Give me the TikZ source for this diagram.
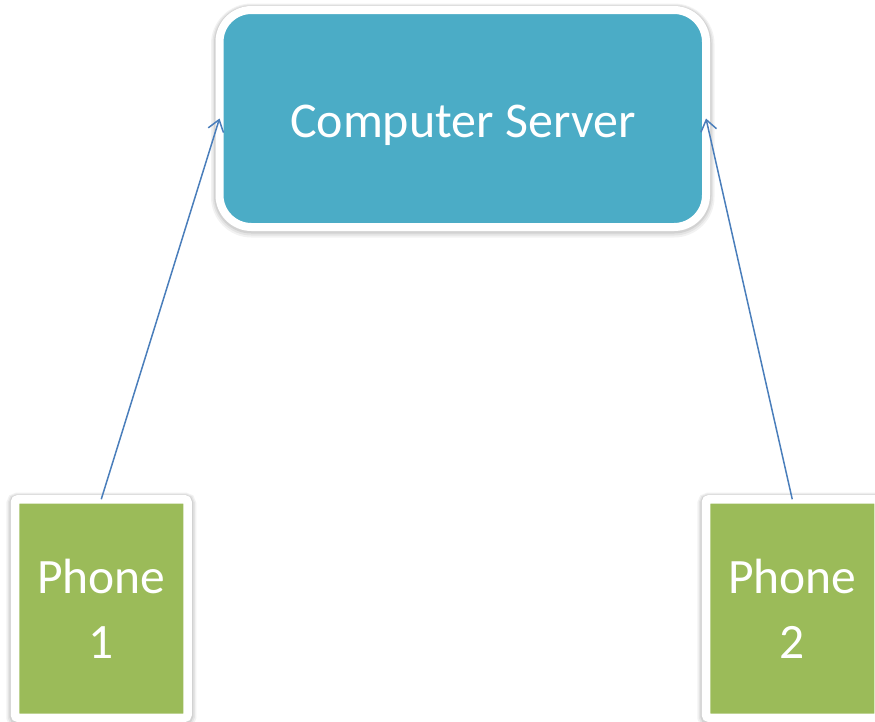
\documentclass[tikz,border=0pt]{standalone}
\usepackage{fontspec}
\setmainfont{Carlito}
\usetikzlibrary{arrows.meta}
\definecolor{serverteal}{HTML}{4BACC6}
\definecolor{phonegreen}{HTML}{9BBB59}
\definecolor{linkblue}{HTML}{4A7EBB}
\tikzset{
  % soft grey edge around the white frame, built from stacked translucent strokes
  softedge/.style={
    preaction={draw=black,fill=none,draw opacity=0.05,line width=#1+9pt,transform canvas={yshift=-2pt}},
    preaction={draw=black,fill=none,draw opacity=0.06,line width=#1+6pt,transform canvas={yshift=-1.5pt}},
    preaction={draw=black,fill=none,draw opacity=0.08,line width=#1+3pt,transform canvas={yshift=-1pt}}},
  serverbox/.style={draw=white,line width=8pt,fill=serverteal,rounded corners=32pt,
    minimum width=486.5pt,minimum height=217pt,inner sep=0pt,outer sep=0pt,
    text height=37pt,text depth=0pt,
    text=white,font=\fontsize{50}{60}\selectfont,softedge=8pt},
  phonebox/.style={draw=white,line width=8.5pt,fill=phonegreen,rounded corners=3pt,
    minimum width=172.5pt,minimum height=218.5pt,inner sep=0pt,outer sep=0pt,
    text=white,align=center,font=\fontsize{49.5}{65}\selectfont,softedge=8.5pt},
  link/.style={draw=linkblue,line width=1.5pt,-{Straight Barb[length=11pt,width=16pt,line width=1.5pt]}}
}
\begin{document}
\begin{tikzpicture}[x=1pt,y=-1pt]
\useasboundingbox (0,0) rectangle (875,721);
\node[serverbox] (server) at (462.75,118.5) {Computer Server};
\node[phonebox] (phone1) at (101.25,608.5) {Phone\\1};
\node[phonebox] (phone2) at (792.25,608.5) {Phone\\2};
\draw[link] (phone1.north) -- (server.west);
\draw[link] (phone2.north) -- (server.east);
\end{tikzpicture}
\end{document}
